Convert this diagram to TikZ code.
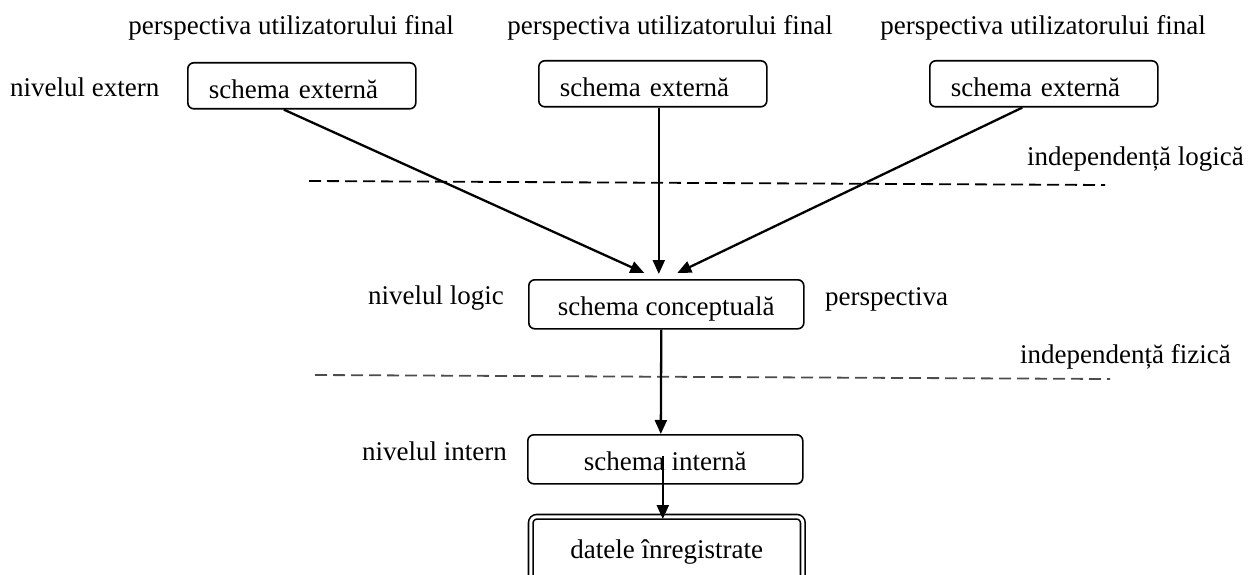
\documentclass[tikz,border=0pt]{standalone}
\usepackage{fontspec}
\setmainfont{Liberation Serif}
\usetikzlibrary{arrows.meta}
\begin{document}
\begin{tikzpicture}[x=1pt,y=-1pt,
  every node/.style={font=\fontsize{27}{32}\selectfont, inner sep=0pt},
  lbl/.style={anchor=base west},
  extbox/.style={draw, line width=1.6pt, rounded corners=6pt, inner xsep=21pt,
    text width=186pt, align=left, text height=36pt, text depth=10pt},
  midbox/.style={draw, line width=1.6pt, rounded corners=6pt, minimum width=275pt,
    text height=36pt, text depth=13pt},
  databox/.style={draw, double, double distance=3pt, line width=1.6pt,
    rounded corners=6pt, minimum width=272pt, text height=42pt, text depth=24pt},
  flow/.style={line width=2.3pt, -{Triangle[length=14pt,width=12pt]}},
  sep/.style={line width=1.8pt, dash pattern=on 12pt off 6pt}]
\useasboundingbox (0,0) rectangle (1248,575);

% column headers
\node[anchor=base] (h1) at (291,35) {perspectiva utilizatorului final};
\node[anchor=base] (h2) at (670,35) {perspectiva utilizatorului final};
\node[anchor=base] (h3) at (1043,35) {perspectiva utilizatorului final};

% level labels
\node[lbl] (lext) at (10,97) {nivelul extern};
\node[lbl] (llog) at (368,304) {nivelul logic};
\node[lbl] (lint) at (362,460) {nivelul intern};
\node[lbl] (lper) at (825,305) {perspectiva};
\node[lbl] (ilog) at (1027,165) {independență logică};
\node[lbl] (ifiz) at (1020,363) {independență fizică};

% schemas
\node[extbox, anchor=north west] (e1) at (187,62) {schema externă};
\node[extbox, anchor=north west] (e2) at (538,60) {schema externă};
\node[extbox, anchor=north west] (e3) at (929,60) {schema externă};
\node[midbox, anchor=north west] (bc) at (528,279) {schema conceptuală};
\node[midbox, anchor=north west] (bi) at (527,434) {schema internă};
\node[databox, anchor=north west] (bd) at (530,516) {datele înregistrate};

% separators
\coordinate (s1a) at (309,181);
\coordinate (s1b) at (1105,185);
\coordinate (s2a) at (315,375);
\coordinate (s2b) at (1110,379);
\draw[sep] (s1a) -- (s1b);
\draw[sep, draw=black!70] (s2a) -- (s2b);

% mappings
\draw[flow] ([xshift=-18pt]e1.south) -- ([xshift=-22pt,yshift=6pt]bc.north);
\draw[flow] ([xshift=6pt]e2.south) -- ([xshift=-7.5pt,yshift=5pt]bc.north);
\draw[flow] ([xshift=-21.5pt]e3.south) -- ([xshift=11pt,yshift=6pt]bc.north);
\draw[flow] ([xshift=-5pt]bc.south) -- ([xshift=-4.5pt]bi.north);
\draw[flow] ([xshift=-2.5pt,yshift=3pt]bi.center) -- ([xshift=-4pt,yshift=-3pt]bd.north);
\end{tikzpicture}
\end{document}
